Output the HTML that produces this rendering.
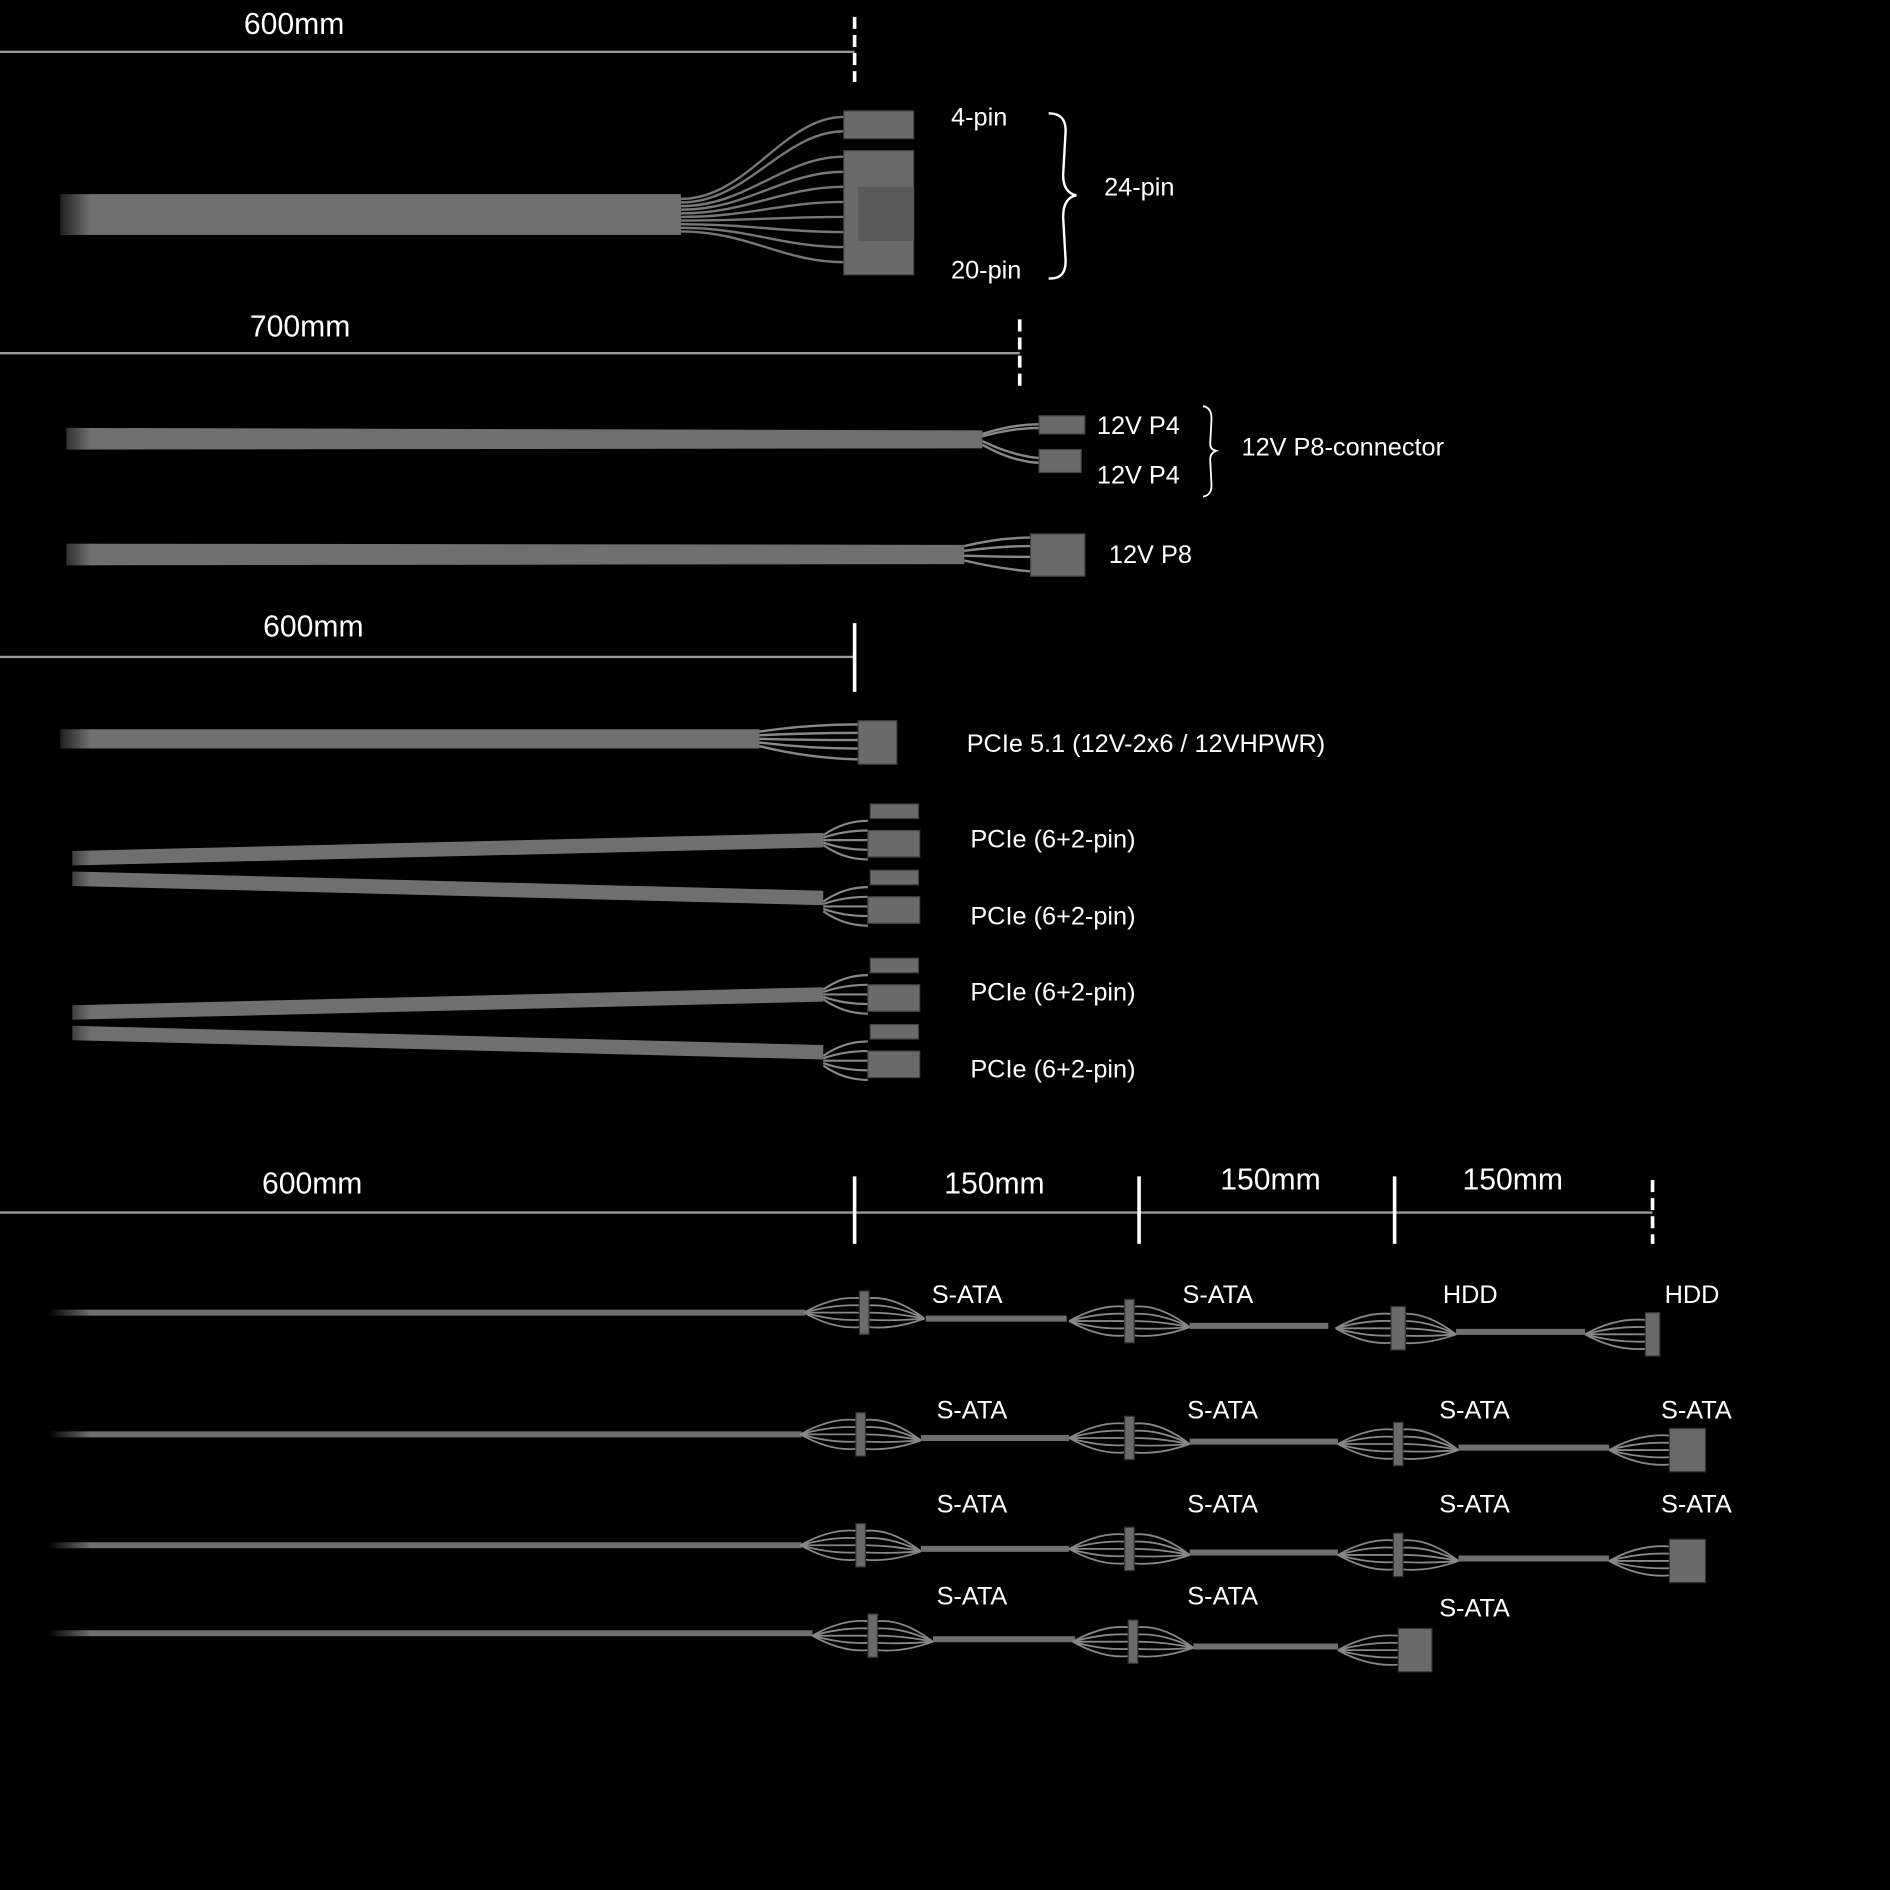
<!DOCTYPE html>
<html><head><meta charset="utf-8"><style>
html,body{margin:0;padding:0;background:#000;width:1890px;height:1890px;overflow:hidden}
svg{display:block}
text{font-family:"Liberation Sans",sans-serif;fill:#fff;font-size:21px}
text.big{font-size:25px}
</style></head><body>
<svg id="s" width="1890" height="1890" viewBox="0 0 1568 1568" xmlns="http://www.w3.org/2000/svg">
<defs>
<linearGradient id="fade" gradientUnits="userSpaceOnUse" x1="40" y1="0" x2="75" y2="0">
<stop offset="0" stop-color="#000"/><stop offset="1" stop-color="#6f6f6f"/></linearGradient>
</defs>
<rect width="1568" height="1568" fill="#000"/>
<!-- Section 1 -->
<text class="big" x="244" y="28" text-anchor="middle">600mm</text>
<line x1="0" y1="43" x2="709" y2="43" stroke="#999" stroke-width="2"/>
<line x1="709" y1="14" x2="709" y2="68" stroke="#fff" stroke-width="3" stroke-dasharray="10,5"/>
<path d="M50 161 L565 161 L565 195 L50 195 Z" fill="url(#fade)"/>
<g id="fan24" stroke="#777" stroke-width="2" fill="none"></g>
<rect x="700" y="92" width="58" height="23" fill="#6a6a6a" stroke="#444"/>
<rect x="700" y="125" width="58" height="103" fill="#6a6a6a" stroke="#444"/>
<rect x="712" y="155" width="46" height="45" fill="#5a5a5a"/>
<text x="789" y="104">4-pin</text>
<text x="789" y="231">20-pin</text>
<path d="M870 94 Q885 94 884 110 L882 145 Q882 160 893 162 Q882 164 882 180 L884 215 Q885 232 870 231" stroke="#fff" stroke-width="2" fill="none"/>
<text x="916" y="162">24-pin</text>
<!-- Section 2 -->
<text class="big" x="249" y="279" text-anchor="middle">700mm</text>
<line x1="0" y1="293" x2="846" y2="293" stroke="#999" stroke-width="2"/>
<line x1="846" y1="265" x2="846" y2="320" stroke="#fff" stroke-width="3" stroke-dasharray="10,5"/>
<path d="M55 355 L815 357 L815 372 L55 373 Z" fill="url(#fade)"/>
<path d="M815 360 Q840 352 862 352 M815 362 Q840 355 862 355 M815 366 Q840 378 862 380 M815 369 Q840 383 862 384" stroke="#888" stroke-width="2" fill="none"/>
<rect x="862" y="345" width="38" height="15" fill="#6a6a6a" stroke="#444"/>
<rect x="862" y="373" width="35" height="19" fill="#6a6a6a" stroke="#444"/>
<text x="910" y="360">12V P4</text>
<text x="910" y="401">12V P4</text>
<path d="M998 337 Q1006 338 1005 350 L1004 368 Q1004 373 1009 374 Q1004 376 1004 381 L1005 400 Q1006 411 998 412" stroke="#fff" stroke-width="1.5" fill="none"/>
<text x="1030" y="378">12V P8-connector</text>
<path d="M55 451 L800 452 L800 468 L55 469 Z" fill="url(#fade)"/>
<path d="M800 453 Q830 446 855 446 M800 457 Q830 453 855 453 M800 461 Q830 462 855 462 M800 465 Q830 472 855 474" stroke="#888" stroke-width="2" fill="none"/>
<rect x="855" y="443" width="45" height="35" fill="#6a6a6a" stroke="#444"/>
<text x="920" y="467">12V P8</text>
<!-- Section 3 -->
<text class="big" x="260" y="528" text-anchor="middle">600mm</text>
<line x1="0" y1="545" x2="709" y2="545" stroke="#999" stroke-width="2"/>
<line x1="709" y1="517" x2="709" y2="574" stroke="#fff" stroke-width="3"/>
<path d="M50 605 L630 605 L630 621 L50 621 Z" fill="url(#fade)"/>
<path d="M630 607 Q670 601 712 601 M630 610 Q670 608 712 608 M630 613 Q670 614 712 614 M630 616 Q670 621 712 621 M630 619 Q670 629 712 630" stroke="#888" stroke-width="2" fill="none"/>
<rect x="712" y="598" width="32" height="36" fill="#6a6a6a" stroke="#444"/>
<text x="802" y="624">PCIe 5.1 (12V-2x6 / 12VHPWR)</text>
<g id="pcie"></g>
<text x="805" y="703">PCIe (6+2-pin)</text>
<text x="805" y="767">PCIe (6+2-pin)</text>
<text x="805" y="830">PCIe (6+2-pin)</text>
<text x="805" y="894">PCIe (6+2-pin)</text>
<!-- Section 4 -->
<line x1="0" y1="1006" x2="1371" y2="1006" stroke="#999" stroke-width="2"/>
<text class="big" x="259" y="990" text-anchor="middle">600mm</text>
<text class="big" x="825" y="990" text-anchor="middle">150mm</text>
<text class="big" x="1054" y="987" text-anchor="middle">150mm</text>
<text class="big" x="1255" y="987" text-anchor="middle">150mm</text>
<line x1="709" y1="976" x2="709" y2="1032" stroke="#fff" stroke-width="3"/>
<line x1="945" y1="976" x2="945" y2="1032" stroke="#fff" stroke-width="3"/>
<line x1="1157" y1="976" x2="1157" y2="1032" stroke="#fff" stroke-width="3"/>
<line x1="1371" y1="979" x2="1371" y2="1032" stroke="#fff" stroke-width="3" stroke-dasharray="10,5"/>
<g id="sata"></g>
<text x="773" y="1081">S-ATA</text><text x="981" y="1081">S-ATA</text><text x="1197" y="1081">HDD</text><text x="1381" y="1081">HDD</text>
<text x="777" y="1177">S-ATA</text><text x="985" y="1177">S-ATA</text><text x="1194" y="1177">S-ATA</text><text x="1378" y="1177">S-ATA</text>
<text x="777" y="1255">S-ATA</text><text x="985" y="1255">S-ATA</text><text x="1194" y="1255">S-ATA</text><text x="1378" y="1255">S-ATA</text>
<text x="777" y="1331">S-ATA</text><text x="985" y="1331">S-ATA</text><text x="1194" y="1341">S-ATA</text>
</svg>
<script>
var NS="http://www.w3.org/2000/svg";
function el(p,t,a){var e=document.createElementNS(NS,t);for(var k in a)e.setAttribute(k,a[k]);p.appendChild(e);return e;}
var f=document.getElementById("fan24");
for(var i=0;i<10;i++){var y0=165+i*3;var y1=i<2?97+i*12:130+(i-2)*12.5;
el(f,"path",{d:"M565 "+y0+" C620 "+y0+" 650 "+y1+" 700 "+y1});}
var pc=document.getElementById("pcie");
function cable(x1,y1,x2,y2){el(pc,"path",{d:"M"+x1+" "+(y1-6)+" L"+x2+" "+(y2-6)+" L"+x2+" "+(y2+6)+" L"+x1+" "+(y1+6)+"Z",fill:"url(#fade)"});}
function pconn(x,y,down){
 for(var i=0;i<5;i++){el(pc,"path",{d:"M683 "+(y+(i-2)*2)+" Q700 "+(y+(i-2)*8)+" 720 "+(y+(i-2)*8),stroke:"#888","stroke-width":1.8,fill:"none"});}
 el(pc,"rect",{x:720,y:y-8,width:43,height:22,fill:"#6a6a6a",stroke:"#444"});
 el(pc,"rect",{x:722,y:y-30,width:40,height:12,fill:"#6a6a6a",stroke:"#444"});
}
cable(60,712,683,697);pconn(720,697);
cable(60,729,683,745);pconn(720,752);
cable(60,840,683,825);pconn(720,825);
cable(60,857,683,873);pconn(720,880);
var s=document.getElementById("sata");
function line(x1,y1,x2,y2){el(s,"line",{x1:x1,y1:y1,x2:x2,y2:y2,stroke:"#6f6f6f","stroke-width":5});}
function node(cx,y,hdd){
 for(var i=-2;i<=2;i++){
  el(s,"path",{d:"M"+(cx-50)+" "+y+" Q"+(cx-25)+" "+(y+i*7)+" "+(cx-4)+" "+(y+i*6),stroke:"#888","stroke-width":1.5,fill:"none"});
  el(s,"path",{d:"M"+(cx+50)+" "+(y+5)+" Q"+(cx+25)+" "+(y+i*7)+" "+(cx+4)+" "+(y+i*6),stroke:"#888","stroke-width":1.5,fill:"none"});}
 el(s,"rect",{x:cx-4,y:y-18,width:hdd?12:8,height:36,fill:"#6a6a6a",stroke:"#333"});
}
function endc(x,y,hdd,w){
 for(var i=-2;i<=2;i++)el(s,"path",{d:"M"+(x-50)+" "+y+" Q"+(x-25)+" "+(y+i*7)+" "+x+" "+(y+i*6),stroke:"#888","stroke-width":1.5,fill:"none"});
 el(s,"rect",{x:x,y:y-18,width:w,height:36,fill:"#6a6a6a",stroke:"#333"});
}
el(s,"line",{x1:40,y1:1089,x2:668,y2:1089,stroke:"url(#fade)","stroke-width":5});
line(768,1094,885,1094);node(717,1089);node(937,1096);line(987,1100,1102,1100);node(1158,1102,1);line(1208,1105,1315,1105);endc(1365,1107,1,12);
[[1190,660,714],[1282,660,714]].forEach(function(r){var y=r[0];
 el(s,"line",{x1:40,y1:y,x2:665,y2:y,stroke:"url(#fade)","stroke-width":5});
 node(714,y);line(764,y+3,887,y+3);node(937,y+3);line(987,y+6,1110,y+6);node(1160,y+8);line(1210,y+11,1335,y+11);endc(1385,y+13,0,30);});
el(s,"line",{x1:40,y1:1355,x2:674,y2:1355,stroke:"url(#fade)","stroke-width":5});
node(724,1357);line(774,1360,892,1360);node(940,1362);line(990,1366,1110,1366);endc(1160,1369,0,28);
</script>
</body></html>
